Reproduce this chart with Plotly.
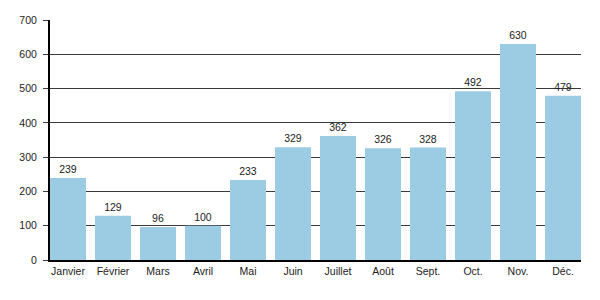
import plotly.graph_objects as go

months = ["Janvier", "Février", "Mars", "Avril", "Mai", "Juin", "Juillet", "Août", "Sept.", "Oct.", "Nov.", "Déc."]
values = [239, 129, 96, 100, 233, 329, 362, 326, 328, 492, 630, 479]
y_ticks = [0, 100, 200, 300, 400, 500, 600, 700]

gap = 0.2
fig = go.Figure(go.Bar(
    x=months, y=values,
    text=[str(v) for v in values], textposition="outside",
    textfont=dict(size=10.5, color="#222"),
    marker=dict(color="#9BCCE3", line=dict(width=0)),
    cliponaxis=False,
))
fig.update_layout(
    width=600, height=300,
    margin=dict(l=50, r=19, t=20, b=40),
    paper_bgcolor="white", plot_bgcolor="white",
    font=dict(family="Liberation Sans, Arial, sans-serif", size=10.5, color="#222"),
    bargap=gap,
    showlegend=False,
    xaxis=dict(range=[-0.5 + gap / 2, len(months) - 0.5 - gap / 2],
               showline=True, linecolor="black", linewidth=2, ticks="", tickfont=dict(size=10.5)),
    yaxis=dict(range=[0, 700], tickvals=y_ticks, showgrid=True, gridcolor="#3a3a3a", gridwidth=1,
               showline=True, linecolor="black", linewidth=2, ticks="outside", ticklen=5,
               tickcolor="#3a3a3a", zeroline=False, tickfont=dict(size=10.5), ticklabelstandoff=4),
)
fig.write_html("out.html")
